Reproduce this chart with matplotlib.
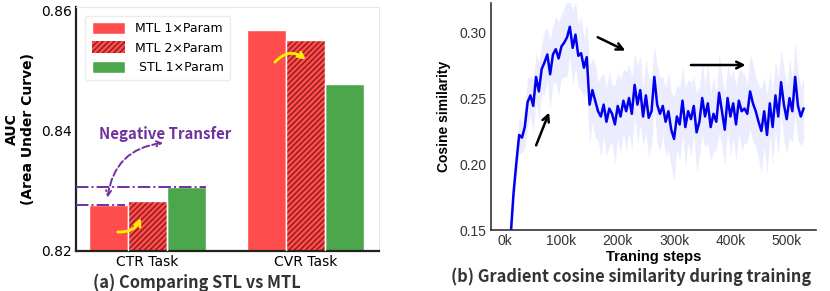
import numpy as np
import matplotlib.pyplot as plt
from matplotlib.patches import Patch, FancyArrowPatch

# ---- left panel data ----
tasks = ['CTR Task', 'CVR Task']
series = ['MTL 1×Param', 'MTL 2×Param', ' STL 1×Param']
mtl1 = [0.8276, 0.8566]
mtl2 = [0.8283, 0.8550]
stl1 = [0.8307, 0.8477]

# ---- right panel data ----
steps_k = list(range(10, 535, 5))
cos_sim = [0.146, 0.178, 0.201, 0.222, 0.220, 0.228, 0.247, 0.252, 0.244, 0.266,
           0.255, 0.272, 0.277, 0.283, 0.268, 0.283, 0.287, 0.280, 0.289, 0.292,
           0.296, 0.304, 0.288, 0.298, 0.282, 0.284, 0.273, 0.281, 0.245, 0.256,
           0.248, 0.240, 0.236, 0.245, 0.232, 0.242, 0.238, 0.230, 0.244, 0.236,
           0.248, 0.240, 0.250, 0.238, 0.260, 0.245, 0.256, 0.236, 0.252, 0.235,
           0.240, 0.266, 0.245, 0.238, 0.244, 0.232, 0.240, 0.226, 0.219, 0.236,
           0.230, 0.248, 0.228, 0.240, 0.234, 0.244, 0.224, 0.232, 0.250, 0.236,
           0.246, 0.228, 0.238, 0.232, 0.254, 0.240, 0.226, 0.250, 0.236, 0.246,
           0.230, 0.248, 0.240, 0.242, 0.238, 0.255, 0.246, 0.240, 0.232, 0.225,
           0.240, 0.222, 0.246, 0.228, 0.252, 0.236, 0.262, 0.245, 0.234, 0.250,
           0.240, 0.266, 0.244, 0.236, 0.242]
spread = [0.006, 0.010, 0.012, 0.014, 0.012, 0.016, 0.018, 0.015, 0.020, 0.018,
          0.022, 0.019, 0.024, 0.020, 0.026, 0.022, 0.025, 0.028, 0.024, 0.026,
          0.030, 0.022, 0.028, 0.025, 0.024, 0.028, 0.022, 0.026, 0.030, 0.024,
          0.028, 0.022, 0.030, 0.024, 0.026, 0.028, 0.022, 0.030, 0.025, 0.028,
          0.024, 0.030, 0.026, 0.028, 0.024, 0.030, 0.026, 0.022, 0.028, 0.030,
          0.026, 0.024, 0.030, 0.028, 0.022, 0.026, 0.030, 0.028, 0.032, 0.024,
          0.028, 0.026, 0.030, 0.024, 0.028, 0.022, 0.030, 0.026, 0.028, 0.024,
          0.030, 0.026, 0.028, 0.022, 0.030, 0.026, 0.028, 0.024, 0.030, 0.026,
          0.028, 0.024, 0.030, 0.026, 0.022, 0.028, 0.030, 0.026, 0.028, 0.032,
          0.026, 0.030, 0.024, 0.028, 0.026, 0.030, 0.024, 0.028, 0.026, 0.030,
          0.024, 0.028, 0.026, 0.022, 0.024]

RED = '#ff4c4c'
GREEN = '#4ca64c'
PURPLE = '#7030a0'
YELLOW = '#fff000'
CAP = ['Noto Sans CJK SC', 'DejaVu Sans']

fig = plt.figure(figsize=(8.3, 2.91), dpi=100)

# ================= (a) bar chart =================
ax = fig.add_axes([76/830, 40/291, 303/830, 244/291])
x = np.arange(len(tasks))
w = 0.247
ax.bar(x - w, mtl1, w, color=RED, edgecolor='white', linewidth=1, zorder=2)
ax.bar(x, mtl2, w, color=RED, edgecolor='#8b1a1a', linewidth=0, hatch='//////', zorder=2)
ax.bar(x, mtl2, w, color='none', edgecolor='white', linewidth=1, zorder=3)
ax.bar(x + w, stl1, w, color=GREEN, edgecolor='white', linewidth=1, zorder=2)

ax.set_ylim(0.82, 0.8605)
ax.set_xlim(-0.453, 1.465)
ax.set_yticks([0.82, 0.84, 0.86])
ax.set_xticks(x)
ax.set_xticklabels(tasks, fontsize=10)
ax.tick_params(axis='both', length=0, pad=3, labelsize=10)
ax.set_ylabel('AUC\n(Area Under Curve)', fontsize=10, fontweight='bold', labelpad=4)
for s in ['top', 'right']:
    ax.spines[s].set_color('#e6e6e6')
    ax.spines[s].set_linewidth(0.8)
for s in ['left', 'bottom']:
    ax.spines[s].set_color('#222222')
    ax.spines[s].set_linewidth(1.6)

handles = [Patch(facecolor=RED, edgecolor='white'),
           Patch(facecolor=RED, edgecolor='#8b1a1a', hatch='//////', linewidth=0),
           Patch(facecolor=GREEN, edgecolor='white')]
ax.legend(handles, series, loc='upper left', fontsize=9, frameon=True,
          edgecolor='#e6e6e6', fancybox=True, borderpad=0.5,
          bbox_to_anchor=(0.01, 0.99), handlelength=2.7, handleheight=1.1)

# negative transfer guides
ax.plot([-0.453, x[0] - w / 2 - 0.02], [mtl1[0], mtl1[0]], color=PURPLE,
        linestyle='-.', linewidth=1.4, zorder=4)
ax.plot([-0.453, x[0] + w * 1.5], [stl1[0], stl1[0]], color=PURPLE,
        linestyle='-.', linewidth=1.4, zorder=4)
ax.text(0.11, 0.8395, 'Negative Transfer', color=PURPLE, fontsize=10.8,
        fontweight='bold', ha='center', va='center', family=CAP)
ax.add_patch(FancyArrowPatch((-0.256, 0.8284), (0.117, 0.8380),
                             connectionstyle='arc3,rad=-0.4', arrowstyle='<->',
                             mutation_scale=9, color=PURPLE, linestyle='--',
                             linewidth=1.4, zorder=5))
# yellow arrows
ax.add_patch(FancyArrowPatch((-0.206, 0.8232), (-0.035, 0.8259),
                             connectionstyle='arc3,rad=0.4', arrowstyle='->',
                             mutation_scale=10, color=YELLOW, linewidth=2, zorder=5))
ax.add_patch(FancyArrowPatch((0.794, 0.8510), (1.016, 0.8515),
                             connectionstyle='arc3,rad=-0.5', arrowstyle='->',
                             mutation_scale=10, color=YELLOW, linewidth=2, zorder=5))

fig.text(197/830, 1 - 283/291, '(a) Comparing STL vs MTL', ha='center', va='center',
         fontsize=11.8, fontweight='bold', color='#333333', family=CAP)

# ================= (b) cosine similarity =================
bx = fig.add_axes([491/830, 61/291, 325/830, 227/291])
steps = np.array(steps_k) * 1000
cs = np.array(cos_sim)
sp = np.array(spread)
bx.fill_between(steps, cs - sp, cs + sp, color='#6666ff', alpha=0.12, linewidth=0)
bx.plot(steps, cs, color='#0000ee', linewidth=1.8)

bx.set_xlim(-25000, 552000)
bx.set_ylim(0.15, 0.322)
bx.set_yticks([0.15, 0.20, 0.25, 0.30])
bx.set_yticklabels(['0.15', '0.20', '0.25', '0.30'], family='Liberation Sans', fontsize=10)
bx.set_xticks([0, 100000, 200000, 300000, 400000, 500000])
bx.set_xticklabels(['0k', '100k', '200k', '300k', '400k', '500k'],
                   family='Liberation Sans', fontsize=10)
bx.tick_params(axis='both', length=0, pad=3, colors='#333333')
bx.set_xlabel('Traning steps', fontsize=10.5, fontweight='bold', family='Liberation Sans',
              labelpad=1)
bx.set_ylabel('Cosine similarity', fontsize=10, fontweight='bold', family='Liberation Sans',
              labelpad=6)
bx.spines['top'].set_visible(False)
bx.spines['right'].set_visible(False)
for s in ['left', 'bottom']:
    bx.spines[s].set_color('#333333')
    bx.spines[s].set_linewidth(1.2)

for tail, head in [((53300, 0.2122), (80000, 0.241)),
                   ((160000, 0.297), (218000, 0.285)),
                   ((325000, 0.275), (432000, 0.275))]:
    bx.add_patch(FancyArrowPatch(tail, head, arrowstyle='->', mutation_scale=12,
                                 color='black', linewidth=1.8, zorder=5))

fig.text(631/830, 1 - 277/291, '(b) Gradient cosine similarity during training',
         ha='center', va='center', fontsize=11.8, fontweight='bold', color='#333333',
         family=CAP)

fig.savefig('out.png', dpi=100)
